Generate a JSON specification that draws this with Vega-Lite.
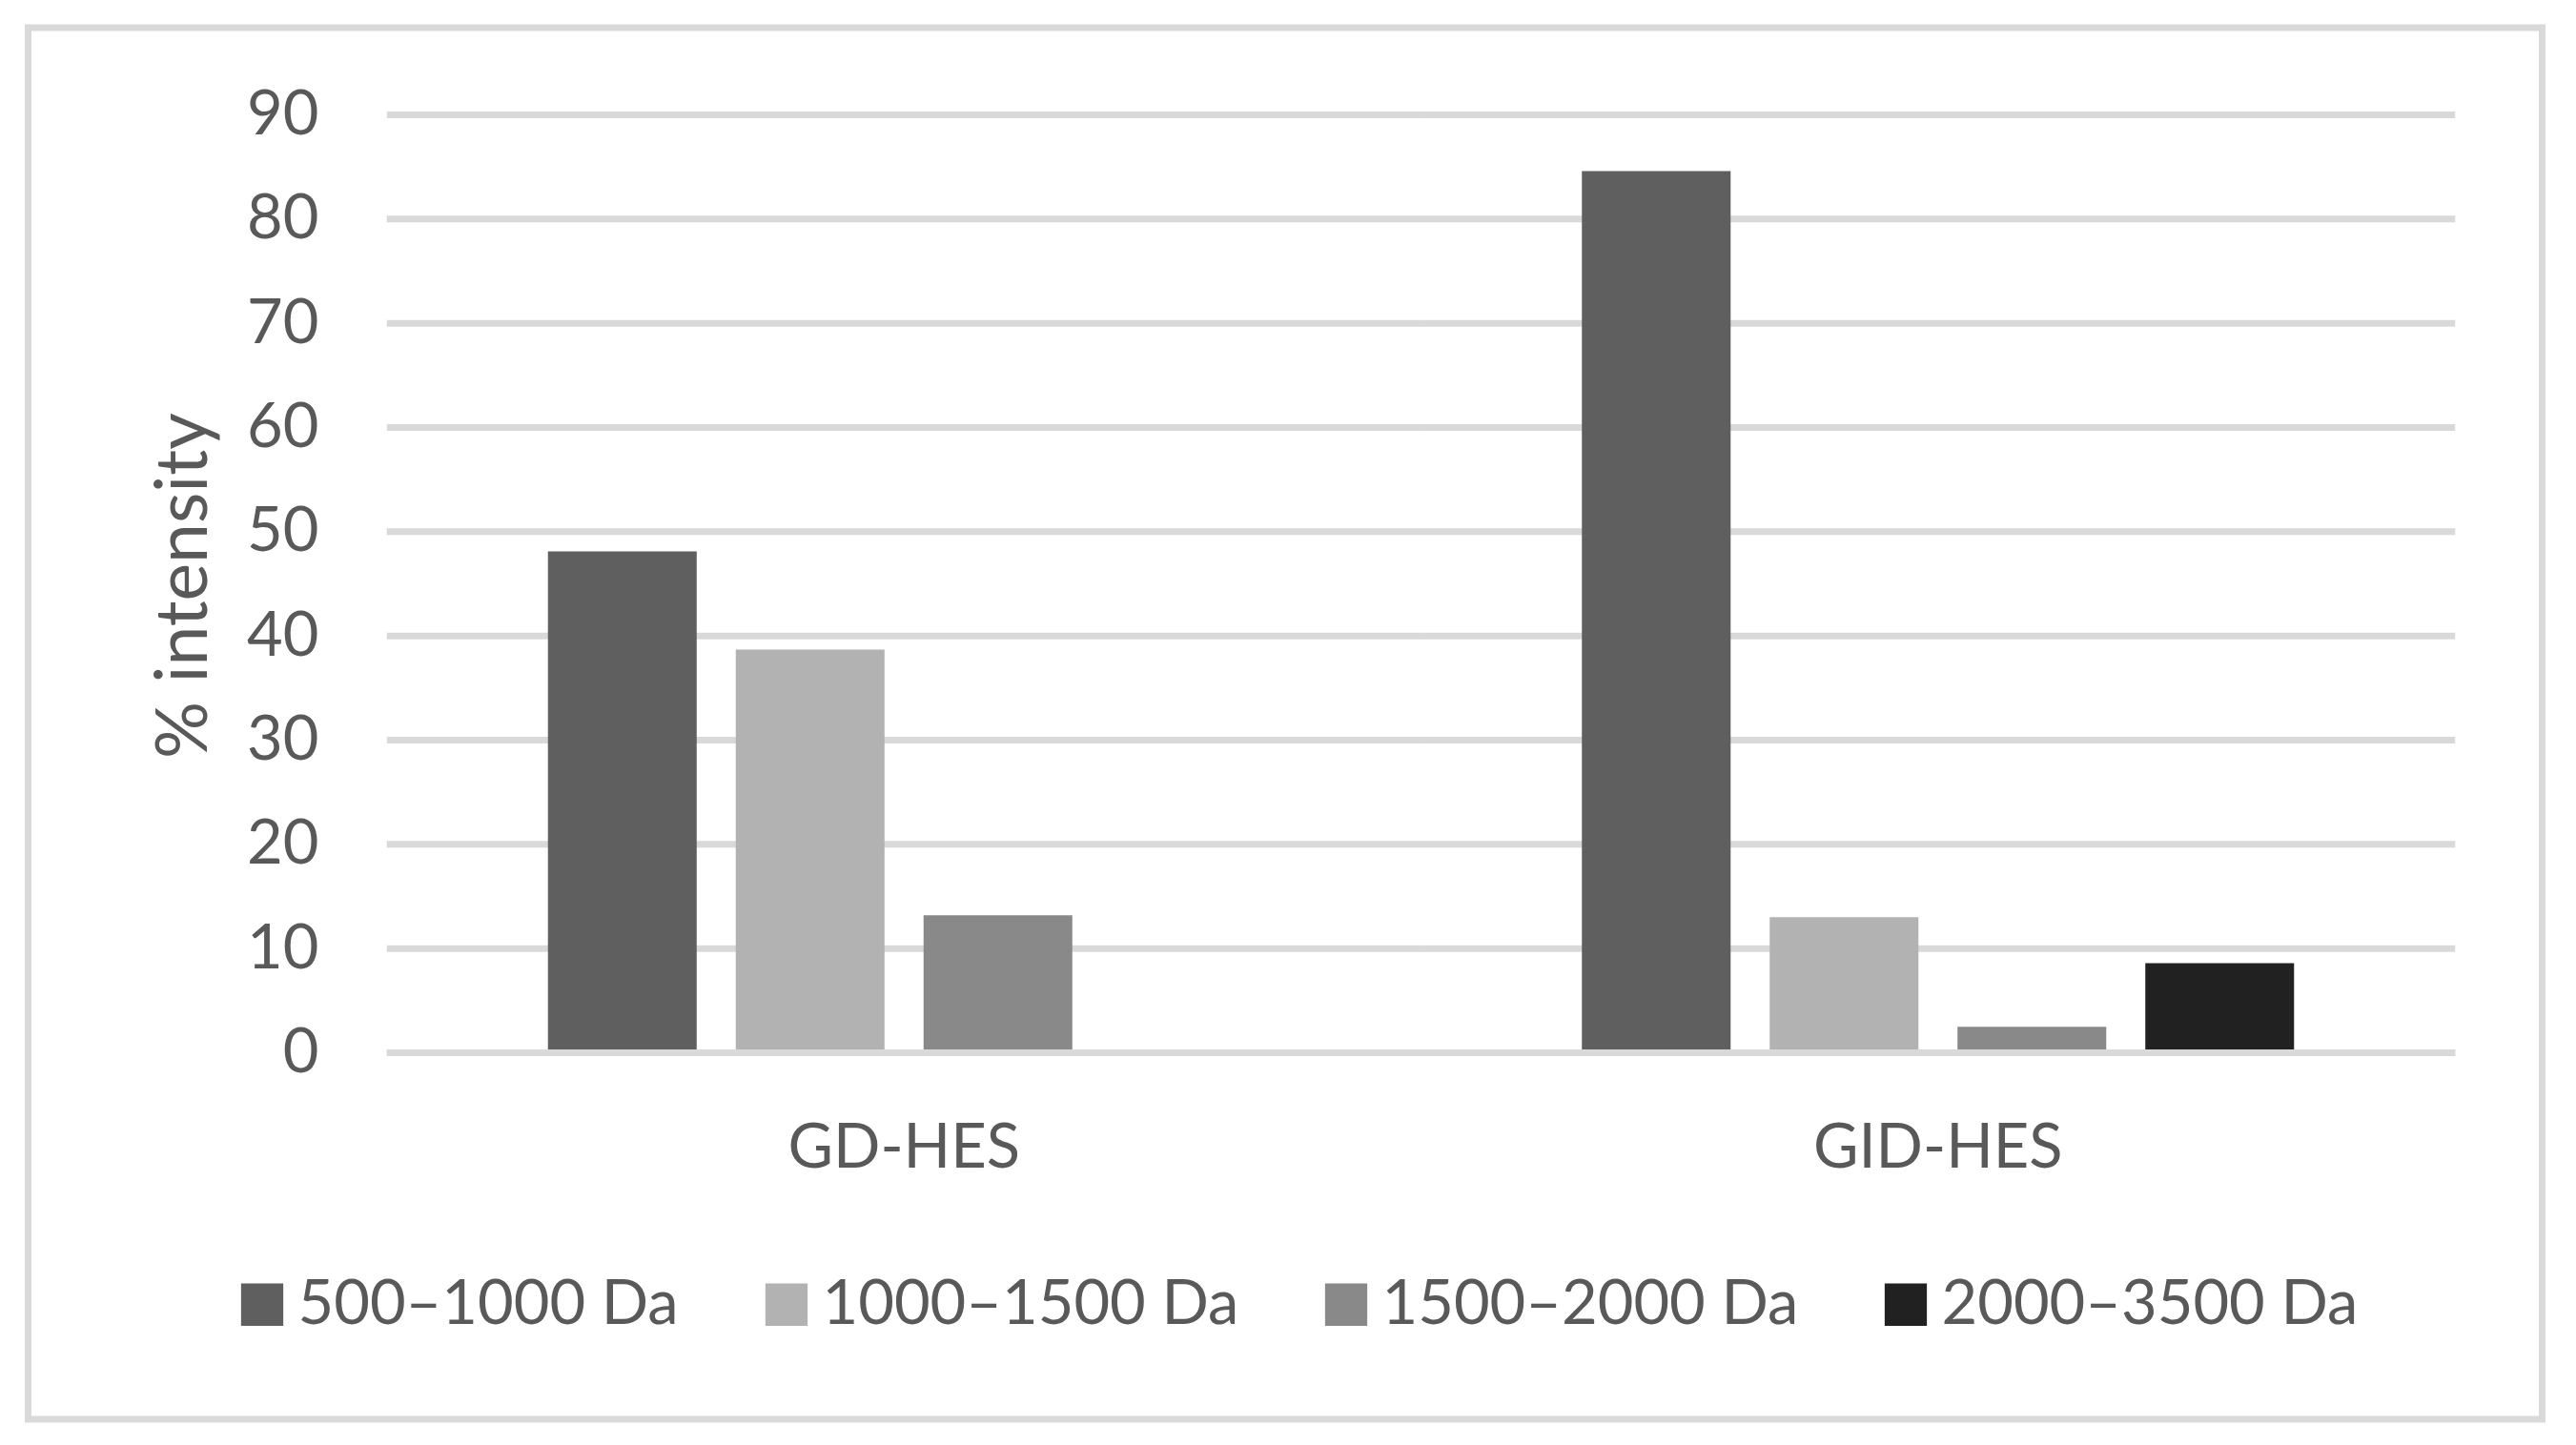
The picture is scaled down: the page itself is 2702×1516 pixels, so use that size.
{
  "$schema": "https://vega.github.io/schema/vega-lite/v6.json",
  "width": 2637,
  "height": 1460,
  "autosize": {"type": "none"},
  "padding": {"left": 29.5, "top": 29, "right": 35.5, "bottom": 27},
  "background": "white",
  "config": {
    "view": {"stroke": "#d9d9d9", "strokeWidth": 7},
    "font": "Lato"
  },
  "datasets": {
    "bars": [
      {"group": "GD-HES", "size": "500–1000 Da", "v": 48.1},
      {"group": "GD-HES", "size": "1000–1500 Da", "v": 38.7},
      {"group": "GD-HES", "size": "1500–2000 Da", "v": 13.2},
      {"group": "GID-HES", "size": "500–1000 Da", "v": 84.6},
      {"group": "GID-HES", "size": "1000–1500 Da", "v": 13.0},
      {"group": "GID-HES", "size": "1500–2000 Da", "v": 2.5},
      {"group": "GID-HES", "size": "2000–3500 Da", "v": 8.6}
    ],
    "grid": [
      {"group": "GD-HES", "v": 0}, {"group": "GID-HES", "v": 0},
      {"group": "GD-HES", "v": 10}, {"group": "GID-HES", "v": 10},
      {"group": "GD-HES", "v": 20}, {"group": "GID-HES", "v": 20},
      {"group": "GD-HES", "v": 30}, {"group": "GID-HES", "v": 30},
      {"group": "GD-HES", "v": 40}, {"group": "GID-HES", "v": 40},
      {"group": "GD-HES", "v": 50}, {"group": "GID-HES", "v": 50},
      {"group": "GD-HES", "v": 60}, {"group": "GID-HES", "v": 60},
      {"group": "GD-HES", "v": 70}, {"group": "GID-HES", "v": 70},
      {"group": "GD-HES", "v": 80}, {"group": "GID-HES", "v": 80},
      {"group": "GD-HES", "v": 90}, {"group": "GID-HES", "v": 90}
    ]
  },
  "encoding": {
    "x": {
      "field": "group",
      "type": "nominal",
      "sort": ["GD-HES", "GID-HES"],
      "scale": {"paddingInner": 0, "paddingOuter": 0.21577, "align": 0.8045},
      "axis": {
        "title": null,
        "orient": "bottom",
        "offset": -384.5,
        "domain": false,
        "ticks": false,
        "grid": false,
        "labelAngle": 0,
        "labelFontSize": 65,
        "labelColor": "#595959",
        "labelBaseline": "middle",
        "labelPadding": 99.5,
        "labelLimit": 1000
      }
    },
    "y": {
      "field": "v",
      "type": "quantitative",
      "scale": {"domain": [-35.168, 98.369], "nice": false, "zero": false},
      "axis": {
        "title": "% intensity",
        "values": [0, 10, 20, 30, 40, 50, 60, 70, 80, 90],
        "offset": -304.5,
        "domain": false,
        "ticks": false,
        "grid": false,
        "labelPadding": 0,
        "labelFontSize": 65,
        "labelColor": "#595959",
        "titleFontSize": 75,
        "titleFontWeight": "normal",
        "titleColor": "#595959",
        "titleX": -141,
        "titleY": 585,
        "titleBaseline": "middle",
        "titleAlign": "center",
        "titleAngle": -90
      }
    }
  },
  "layer": [
    {
      "data": {"name": "grid"},
      "mark": {"type": "tick", "color": "#d9d9d9", "thickness": 7, "size": 1085, "opacity": 1}
    },
    {
      "data": {"name": "bars"},
      "mark": {"type": "bar"},
      "encoding": {
        "xOffset": {
          "field": "size",
          "type": "nominal",
          "scale": {"domain": ["500–1000 Da", "1000–1500 Da", "1500–2000 Da", "2000–3500 Da"], "paddingInner": 0.208, "paddingOuter": 0.8566}
        },
        "color": {
          "field": "size",
          "type": "nominal",
          "scale": {"domain": ["500–1000 Da", "1000–1500 Da", "1500–2000 Da", "2000–3500 Da"], "range": ["#5f5f5f", "#b2b2b2", "#898989", "#212121"]},
          "legend": {
            "title": null,
            "orient": "none",
            "legendX": 213,
            "legendY": 1307,
            "direction": "horizontal",
            "columns": 4,
            "symbolType": "square",
            "symbolSize": 1960,
            "symbolStrokeWidth": 0,
            "symbolOpacity": 1,
            "labelFontSize": 65,
            "labelColor": "#595959",
            "labelOffset": 5,
            "columnPadding": 80,
            "padding": 0,
            "labelLimit": 1000
          }
        }
      }
    },
    {
      "data": {"name": "grid"},
      "transform": [{"filter": "datum.v == 0"}],
      "mark": {"type": "tick", "color": "#d9d9d9", "thickness": 7, "size": 1085, "opacity": 1}
    }
  ]
}
